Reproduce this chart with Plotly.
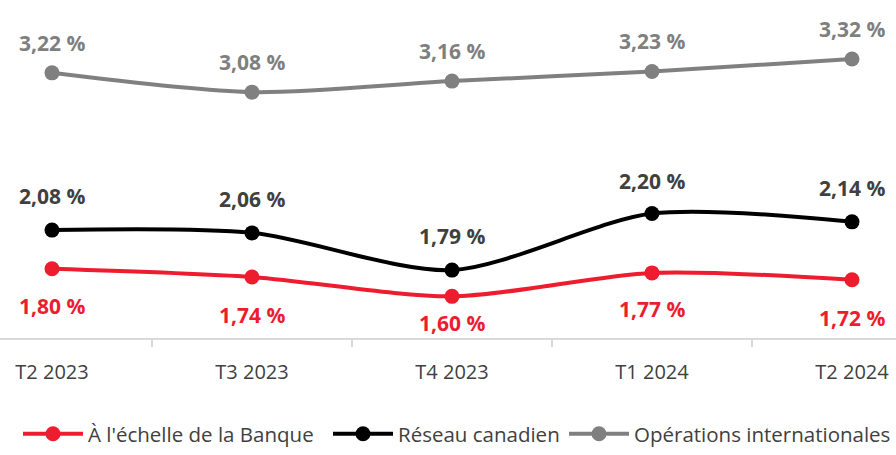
import plotly.graph_objects as go

categories = ["T2 2023", "T3 2023", "T4 2023", "T1 2024", "T2 2024"]
banque = [1.80, 1.74, 1.60, 1.77, 1.72]
canadien = [2.08, 2.06, 1.79, 2.20, 2.14]
international = [3.22, 3.08, 3.16, 3.23, 3.32]

# label offsets (px) relative to each marker
banque_shift = [-37, -38, -27, -36, -38]
canadien_shift = [34, 34, 34, 33, 34]
international_shift = [30, 30, 30, 30, 30]

series = [
    ("À l'échelle de la Banque", banque, "#ED1C2E", "#ED1C2E", banque_shift, "legend", 18, "left"),
    ("Réseau canadien", canadien, "#000000", "#404040", canadien_shift, "legend2", 328, "left"),
    ("Opérations internationales", international, "#808080", "#7F7F7F", international_shift, "legend3", 896, "right"),
]

FONT = "'Open Sans', Lato, sans-serif"
W, H, B = 896, 455, 117

def fmt(v):
    return f"{v:.2f}".replace(".", ",") + " %"

fig = go.Figure()
annotations = []
legends = {}
for name, vals, color, tcolor, shifts, leg, lx, anchor in series:
    fig.add_trace(go.Scatter(
        x=categories, y=vals, name=name, mode="lines+markers", legend=leg,
        line=dict(color=color, width=4, shape="spline", smoothing=0.8),
        marker=dict(color=color, size=15),
    ))
    for c, v, s in zip(categories, vals, shifts):
        annotations.append(dict(
            x=c, y=v, text=fmt(v), showarrow=False, yshift=s,
            font=dict(family=FONT, size=21, color=tcolor, weight="bold"),
        ))
    legends[leg] = dict(
        orientation="h", x=lx / W, xanchor=anchor,
        y=-0.343, yanchor="bottom",
        font=dict(family=FONT, size=20.5, color="#404040"),
        itemwidth=60, bgcolor="rgba(0,0,0,0)",
    )

fig.update_layout(
    width=W, height=H,
    margin=dict(l=0, r=0, t=0, b=B),
    paper_bgcolor="white", plot_bgcolor="white",
    font=dict(family=FONT, color="#404040"),
    annotations=annotations,
    showlegend=True,
    xaxis=dict(
        type="category", range=[-0.26, 4.22],
        showgrid=False, zeroline=False,
        showline=True, linecolor="#D9D9D9", linewidth=2,
        ticks="outside", tickson="boundaries", ticklen=7, tickcolor="#D9D9D9", tickwidth=2,
        tickfont=dict(family=FONT, size=20, color="#404040"),
        ticklabelstandoff=15,
    ),
    yaxis=dict(range=[1.298, 3.748], visible=False, showgrid=False, zeroline=False),
    **legends,
)

fig.write_html("out.html", config={"displayModeBar": False},
               post_script="document.body.style.margin='0';")
